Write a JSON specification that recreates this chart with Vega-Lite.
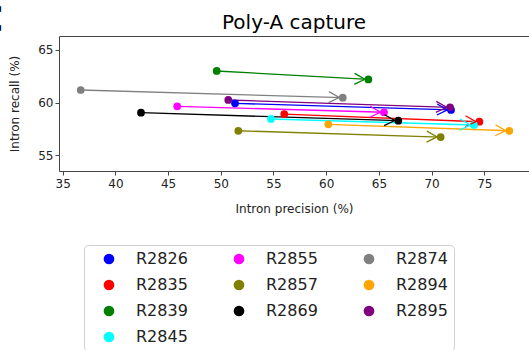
{
  "$schema": "https://vega.github.io/schema/vega-lite/v6.json",
  "autosize": {"type": "none"},
  "padding": {"left": 59, "top": 36, "right": 0, "bottom": 179},
  "width": 470,
  "height": 135,
  "title": {"text": "Poly-A capture", "fontSize": 20, "fontWeight": "normal", "color": "#000000", "font": "DejaVu Sans", "anchor": "middle", "offset": 6, "dy": 38},
  "config": {"view": {"stroke": null}, "font": "DejaVu Sans"},
  "data": {"values": [
    {"sample": "R2826", "stage": "start", "precision": 51.35, "recall": 59.92},
    {"sample": "R2826", "stage": "end", "precision": 71.84, "recall": 59.29},
    {"sample": "R2835", "stage": "start", "precision": 56.02, "recall": 58.90},
    {"sample": "R2835", "stage": "end", "precision": 74.53, "recall": 58.17},
    {"sample": "R2839", "stage": "start", "precision": 49.61, "recall": 63.00},
    {"sample": "R2839", "stage": "end", "precision": 64.00, "recall": 62.20},
    {"sample": "R2845", "stage": "start", "precision": 54.76, "recall": 58.43},
    {"sample": "R2845", "stage": "end", "precision": 74.02, "recall": 57.86},
    {"sample": "R2855", "stage": "start", "precision": 45.87, "recall": 59.64},
    {"sample": "R2855", "stage": "end", "precision": 65.48, "recall": 59.07},
    {"sample": "R2857", "stage": "start", "precision": 51.66, "recall": 57.31},
    {"sample": "R2857", "stage": "end", "precision": 70.86, "recall": 56.71},
    {"sample": "R2869", "stage": "start", "precision": 42.43, "recall": 59.03},
    {"sample": "R2869", "stage": "end", "precision": 66.84, "recall": 58.27},
    {"sample": "R2874", "stage": "start", "precision": 36.71, "recall": 61.19},
    {"sample": "R2874", "stage": "end", "precision": 61.57, "recall": 60.46},
    {"sample": "R2894", "stage": "start", "precision": 60.20, "recall": 57.92},
    {"sample": "R2894", "stage": "end", "precision": 77.37, "recall": 57.31},
    {"sample": "R2895", "stage": "start", "precision": 50.71, "recall": 60.24},
    {"sample": "R2895", "stage": "end", "precision": 71.75, "recall": 59.54}
  ]},
  "layer": [
    {
      "mark": {"type": "line", "strokeWidth": 1.3},
      "encoding": {
        "x": {"field": "precision", "type": "quantitative",
          "scale": {"domain": [34.65, 79.24], "nice": false, "zero": false},
          "axis": {"orient": "bottom", "title": "Intron precision (%)", "values": [35, 40, 45, 50, 55, 60, 65, 70, 75],
            "grid": false, "labelFontSize": 12, "labelColor": "#222222", "labelPadding": 3, "tickSize": 4, "tickColor": "#444444",
            "domainColor": "#444444", "titleFontSize": 12, "titleFontWeight": "normal", "titleColor": "#222222", "titlePadding": 14}},
        "y": {"field": "recall", "type": "quantitative",
          "scale": {"domain": [53.48, 66.33], "nice": false, "zero": false},
          "axis": {"title": "Intron recall (%)", "values": [55, 60, 65], "grid": false, "labelFontSize": 12, "labelColor": "#222222",
            "labelPadding": 2, "tickSize": 4, "tickColor": "#444444", "domainColor": "#444444", "titleFontSize": 12,
            "titleFontWeight": "normal", "titleColor": "#222222", "titlePadding": 16}},
        "stroke": {"field": "sample", "type": "nominal",
          "scale": {"range": ["#0000ff", "#ff0000", "#008000", "#00ffff", "#ff00ff", "#808000", "#000000", "#808080", "#ffa500", "#800080"]},
          "legend": null},
        "detail": {"field": "sample"}
      }
    },
    {
      "layer": [
        {
          "mark": {"type": "point", "filled": true, "size": 60, "opacity": 1},
          "encoding": {
            "x": {"field": "precision", "type": "quantitative",
              "axis": {"orient": "top", "labels": false, "ticks": false, "grid": false, "domainColor": "#444444",
                "title": "C", "titleFontSize": 38, "titleFontWeight": "bold", "titleColor": "#000000",
                "titleX": -56, "titleY": -5, "titleAlign": "right", "titleBaseline": "alphabetic", "titleAngle": 0}},
            "y": {"field": "recall", "type": "quantitative"},
            "color": {"field": "sample", "type": "nominal",
              "scale": {"domain": ["R2826", "R2835", "R2839", "R2895", "R2855", "R2857", "R2869", "R2845", "R2874", "R2894"],
                "range": ["#0000ff", "#ff0000", "#008000", "#800080", "#ff00ff", "#808000", "#000000", "#00ffff", "#808080", "#ffa500"]},
              "legend": {"orient": "none", "legendX": 25, "legendY": 209, "columns": 3, "title": null,
                "padding": 6, "symbolOffset": 11, "labelOffset": 19, "columnPadding": 32, "rowPadding": 10,
                "labelFontSize": 16, "labelFont": "DejaVu Sans", "labelColor": "#222222", "labelLimit": 200,
                "strokeColor": "#d0d0d0", "fillColor": "#ffffff", "cornerRadius": 4,
                "symbolType": "circle", "symbolSize": 115, "symbolStrokeWidth": 0, "symbolOpacity": 1}}
          }
        },
        {
          "transform": [{"filter": "datum.stage == 'end'"}],
          "mark": {"type": "point", "shape": "M-1.4,-0.55L-0.35,0L-1.4,0.55", "filled": false, "size": 400,
            "strokeWidth": 1.3, "angle": 2, "opacity": 1},
          "encoding": {
            "x": {"field": "precision", "type": "quantitative",
              "axis": {"orient": "top", "labels": false, "ticks": false, "grid": false, "domainColor": "#444444",
                "title": "C", "titleFontSize": 38, "titleFontWeight": "bold", "titleColor": "#000000",
                "titleX": -56, "titleY": -5, "titleAlign": "right", "titleBaseline": "alphabetic", "titleAngle": 0}},
            "y": {"field": "recall", "type": "quantitative"},
            "stroke": {"field": "sample", "type": "nominal", "legend": null}
          }
        }
      ]
    }
  ]
}
